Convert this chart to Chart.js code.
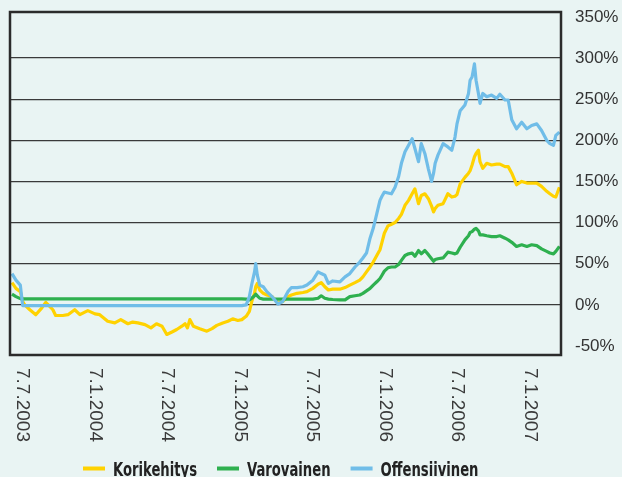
<!DOCTYPE html>
<html>
<head>
<meta charset="utf-8">
<script src="https://cdn.jsdelivr.net/npm/chart.js@4"></script>
<style>
	html, body { margin: 0; padding: 0; background: #e9f4f3; }
	#koriChart { display: block; }
</style>
</head>
<body>
<canvas id="koriChart" width="622" height="477"></canvas>
<script>
var sarjat = ['Korikehitys', 'Varovainen', 'Offensiivinen'];
var varit = ['#ffd200', '#2eb04f', '#70bde8'];

var pvm = [
	'2003-06-11', '2003-06-21', '2003-07-02', '2003-07-08', '2003-07-13', '2003-07-26', '2003-08-10', '2003-08-23',
	'2003-09-04', '2003-09-14', '2003-09-22', '2003-09-29', '2003-10-17', '2003-10-30', '2003-11-16', '2003-11-29',
	'2003-12-19', '2004-01-06', '2004-01-18', '2004-02-07', '2004-02-25', '2004-03-11', '2004-03-29', '2004-04-10',
	'2004-04-23', '2004-05-11', '2004-05-26', '2004-06-09', '2004-06-23', '2004-07-05', '2004-07-18', '2004-07-30',
	'2004-08-12', '2004-08-20', '2004-08-26', '2004-09-01', '2004-09-10', '2004-09-26', '2004-10-14', '2004-10-27',
	'2004-11-08', '2004-11-23', '2004-12-06', '2004-12-18', '2004-12-31', '2005-01-10', '2005-01-21', '2005-01-29',
	'2005-02-04', '2005-02-11', '2005-02-14', '2005-02-18', '2005-02-24', '2005-03-05', '2005-03-14', '2005-03-27',
	'2005-04-11', '2005-04-23', '2005-05-06', '2005-05-15', '2005-05-29', '2005-06-13', '2005-06-23', '2005-07-08',
	'2005-07-21', '2005-07-29', '2005-08-07', '2005-08-16', '2005-08-27', '2005-09-14', '2005-09-27', '2005-10-09',
	'2005-10-22', '2005-11-03', '2005-11-11', '2005-11-20', '2005-11-29', '2005-12-07', '2005-12-16', '2005-12-24',
	'2005-12-29', '2006-01-04', '2006-01-13', '2006-01-22', '2006-01-31', '2006-02-09', '2006-02-16', '2006-02-25',
	'2006-03-06', '2006-03-15', '2006-03-22', '2006-03-31', '2006-04-07', '2006-04-16', '2006-04-25', '2006-05-03',
	'2006-05-08', '2006-05-12', '2006-05-19', '2006-06-01', '2006-06-13', '2006-06-23', '2006-07-01', '2006-07-06',
	'2006-07-14', '2006-07-26', '2006-08-04', '2006-08-08', '2006-08-13', '2006-08-19', '2006-08-23', '2006-08-29',
	'2006-09-02', '2006-09-09', '2006-09-19', '2006-10-01', '2006-10-14', '2006-10-22', '2006-11-04', '2006-11-12',
	'2006-11-21', '2006-12-03', '2006-12-16', '2006-12-29', '2007-01-10', '2007-01-23', '2007-02-04', '2007-02-17',
	'2007-02-25', '2007-03-06', '2007-03-12', '2007-03-21'
];

var korikehitys = [
	27, 20, 16, 4, 0, -6, -12, -5,
	3, -2, -6, -13, -13, -12, -6, -12,
	-7, -11, -12, -20, -22, -18, -23, -21,
	-22, -24, -28, -23, -26, -36, -33, -30,
	-26, -23, -28, -18, -26, -29, -32, -29,
	-25, -22, -20, -17, -19, -18, -14, -8,
	4, 14, 22, 26, 18, 14, 12, 10,
	2, 4, 10, 12, 14, 15, 16, 20,
	25, 27, 22, 18, 19, 19, 21, 24,
	27, 30, 34, 40, 46, 52, 60, 67,
	76, 87, 96, 98, 100, 105, 110, 121,
	127, 135, 141, 123, 133, 135, 129, 120,
	113, 117, 121, 123, 135, 131, 132, 134,
	147, 155, 160, 163, 170, 180, 184, 188,
	174, 166, 172, 170, 171, 171, 168, 168,
	160, 146, 150, 148, 148, 148, 144, 138,
	135, 132, 131, 143
];

var varovainen = [
	13, 10, 7.5, 7.3, 7.3, 7.3, 7.3, 7.3,
	7.3, 7.3, 7.3, 7.3, 7.3, 7.3, 7.3, 7.3,
	7.3, 7.3, 7.3, 7.3, 7.3, 7.3, 7.3, 7.3,
	7.3, 7.3, 7.3, 7.3, 7.3, 7.3, 7.3, 7.3,
	7.3, 7.3, 7.3, 7.3, 7.3, 7.3, 7.3, 7.3,
	7.3, 7.3, 7.3, 7.3, 7.3, 7.3, 7, 6,
	8, 11, 13, 11, 8, 7, 7, 7,
	7, 7, 7, 7, 7, 7, 7, 7,
	8, 11, 8, 7, 6.5, 6, 6, 10,
	11, 12, 14, 17, 20, 24, 28, 32,
	36, 41, 45, 46, 46, 49, 54, 60,
	62, 63, 59, 66, 62, 66, 61, 56,
	53, 55, 56, 57, 64, 63, 62, 63,
	70, 79, 84, 88, 89, 92, 93, 90,
	85, 85, 84, 83, 83, 84, 81, 79,
	76, 71, 73, 71, 73, 72, 68, 65,
	63, 62, 65, 71
];

var offensiivinen = [
	38, 30, 24, -1, -1, -1, -1, -1,
	-1, -1, -1, -1, -1, -1, -1, -1,
	-1, -1, -1, -1, -1, -1, -1, -1,
	-1, -1, -1, -1, -1, -1, -1, -1,
	-1, -1, -1, -1, -1, -1, -1, -1,
	-1, -1, -1, -1, -1, -1, 0, 10,
	25, 40, 50, 36, 24, 22, 16, 10,
	1, 4, 16, 21, 21, 22, 24, 30,
	40, 38, 36, 26, 29, 28, 34, 38,
	46, 52, 57, 63, 81, 93, 111, 127,
	132, 137, 136, 135, 143, 156, 172, 186,
	194, 202, 190, 174, 196, 184, 165, 150,
	160, 172, 182, 196, 192, 188, 204, 220,
	236, 243, 257, 273, 277, 293, 273, 257,
	245, 257, 253, 255, 251, 256, 249, 249,
	225, 214, 222, 214, 218, 220, 212, 200,
	196, 194, 206, 210
];

var xTicks = ['2003-07-07', '2004-01-07', '2004-07-07', '2005-01-07', '2005-07-07', '2006-01-07', '2006-07-07', '2007-01-07'];
var yTicks = [-50, 0, 50, 100, 150, 200, 250, 300, 350];
var xAlku = '2003-06-06';
var xLoppu = '2007-03-25';

document.addEventListener('DOMContentLoaded', function () {
	fntKoriChart();
});

function fntPvmTeksti(s) {
	var p = s.split('-');
	return parseInt(p[2], 10) + '.' + parseInt(p[1], 10) + '.' + p[0];
}

function fntPisteet(arvot) {
	let pisteet = [];
	for (let i = 0; i < pvm.length; i++) {
		pisteet.push({ x: Date.parse(pvm[i]), y: arvot[i] });
	}
	return pisteet;
}

var koriPlugin = {
	id: 'koriPlugin',
	beforeDraw: function (chart) {
		var ctx = chart.ctx;
		ctx.save();
		ctx.fillStyle = '#e9f4f3';
		ctx.fillRect(0, 0, chart.width, chart.height);
		ctx.restore();
	},
	afterDraw: function (chart) {
		var ctx = chart.ctx;
		var a = chart.chartArea;
		ctx.save();
		// kehys
		ctx.strokeStyle = '#2b2b2b';
		ctx.lineWidth = 2.5;
		ctx.strokeRect(a.left, a.top, a.right - a.left, a.bottom - a.top);

		// päivämäärät pystyyn
		var xs = chart.scales.x;
		ctx.fillStyle = '#3a3a3a';
		ctx.font = '19px "Liberation Sans", Arial, sans-serif';
		ctx.textAlign = 'left';
		ctx.textBaseline = 'middle';
		for (let i = 0; i < xTicks.length; i++) {
			var px = xs.getPixelForValue(Date.parse(xTicks[i]));
			ctx.save();
			ctx.translate(px, a.bottom + 13);
			ctx.rotate(Math.PI / 2);
			ctx.fillText(fntPvmTeksti(xTicks[i]), 0, 0);
			ctx.restore();
		}

		// selite, kapeaksi puristettu lihavoitu teksti
		ctx.font = 'bold 19px "DejaVu Sans Condensed", "Liberation Sans", sans-serif';
		ctx.textBaseline = 'alphabetic';
		var ds = chart.data.datasets;
		var kapeus = 84 / ctx.measureText(ds[0].label).width;
		var lx = 83;
		for (let i = 0; i < ds.length; i++) {
			ctx.fillStyle = ds[i].borderColor;
			ctx.fillRect(lx, 466.5, 22, 4);
			ctx.fillStyle = '#222';
			ctx.save();
			ctx.translate(lx + 30, 476);
			ctx.scale(kapeus, 1);
			ctx.fillText(ds[i].label, 0, 0);
			ctx.restore();
			lx += 30 + ctx.measureText(ds[i].label).width * kapeus + 20;
		}
		ctx.restore();
	}
};

function fntKoriChart() {
	var sarjaData = [korikehitys, varovainen, offensiivinen];
	let datasets = [];
	for (let i = 0; i < sarjat.length; i++) {
		datasets.push({
			label: sarjat[i],
			data: fntPisteet(sarjaData[i]),
			borderColor: varit[i],
			backgroundColor: varit[i],
			borderWidth: 3.2,
			pointRadius: 0,
			tension: 0,
			borderJoinStyle: 'round',
			order: sarjat.length - i
		});
	}

	var koriChart = new Chart(document.getElementById('koriChart'), {
		type: 'line',
		data: { datasets: datasets },
		options: {
			responsive: false,
			animation: false,
			devicePixelRatio: 1,
			layout: { padding: { left: 10, top: 12, right: 0, bottom: 0 } },
			plugins: {
				legend: { display: false },
				tooltip: { enabled: false }
			},
			scales: {
				x: {
					type: 'linear',
					min: Date.parse(xAlku),
					max: Date.parse(xLoppu),
					afterBuildTicks: function (scale) {
						scale.ticks = xTicks.map(function (t) { return { value: Date.parse(t) }; });
					},
					afterFit: function (scale) {
						scale.height = 122;
						scale.paddingLeft = 0;
						scale.paddingRight = 0;
					},
					grid: { display: false },
					border: { display: false },
					ticks: { display: false }
				},
				y: {
					position: 'right',
					min: -61,
					max: 356,
					afterBuildTicks: function (scale) {
						scale.ticks = yTicks.map(function (v) { return { value: v }; });
					},
					afterFit: function (scale) {
						scale.width = 61;
						scale.paddingTop = 0;
						scale.paddingBottom = 0;
					},
					border: { display: false },
					grid: {
						drawTicks: false,
						lineWidth: 1.3,
						color: function (c) {
							var v = c.tick ? c.tick.value : 0;
							return (v >= 0 && v <= 300) ? '#3a3a3a' : 'rgba(0,0,0,0)';
						}
					},
					ticks: {
						padding: 14,
						color: '#333',
						font: { family: '"Liberation Sans", Arial, sans-serif', size: 17 },
						callback: function (v) { return v + '%'; }
					}
				}
			}
		},
		plugins: [koriPlugin]
	});
}
</script>
</body>
</html>
